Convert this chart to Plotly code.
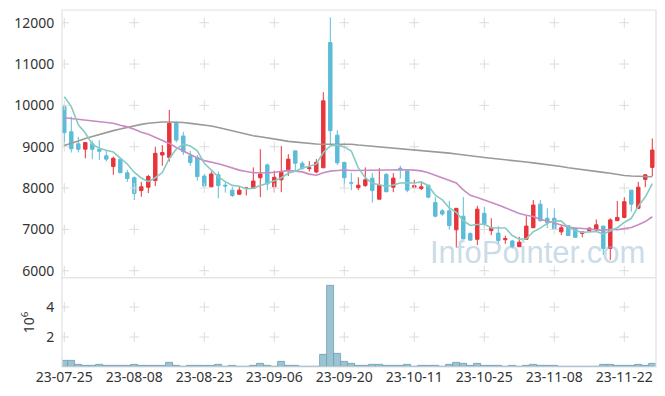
import plotly.graph_objects as go

dates = [
    "23-07-25", "23-07-26", "23-07-27", "23-07-28", "23-07-31",
    "23-08-01", "23-08-02", "23-08-03", "23-08-04", "23-08-07",
    "23-08-08", "23-08-09", "23-08-10", "23-08-11", "23-08-14",
    "23-08-16", "23-08-17", "23-08-18", "23-08-21", "23-08-22",
    "23-08-23", "23-08-24", "23-08-25", "23-08-28", "23-08-29",
    "23-08-30", "23-08-31", "23-09-01", "23-09-04", "23-09-05",
    "23-09-06", "23-09-07", "23-09-08", "23-09-11", "23-09-12",
    "23-09-13", "23-09-14", "23-09-15", "23-09-18", "23-09-19",
    "23-09-20", "23-09-21", "23-09-22", "23-09-25", "23-09-26",
    "23-09-27", "23-10-04", "23-10-05", "23-10-06", "23-10-10",
    "23-10-11", "23-10-12", "23-10-13", "23-10-16", "23-10-17",
    "23-10-18", "23-10-19", "23-10-20", "23-10-23", "23-10-24",
    "23-10-25", "23-10-26", "23-10-27", "23-10-30", "23-10-31",
    "23-11-01", "23-11-02", "23-11-03", "23-11-06", "23-11-07",
    "23-11-08", "23-11-09", "23-11-10", "23-11-13", "23-11-14",
    "23-11-15", "23-11-16", "23-11-17", "23-11-20", "23-11-21",
    "23-11-22", "23-11-23", "23-11-24", "23-11-27", "23-11-28",
]

open_ = [
    9970, 9360, 9070, 8940, 9070, 8940, 8780, 8520, 8700, 8370,
    8250, 7940, 8020, 8180, 8800, 8740, 9590, 9260, 8780, 8740,
    8290, 8030, 8320, 8070, 7950, 7850, 7990, 7990, 8250, 8560,
    8030, 8200, 8440, 8900, 8600, 8470, 8390, 8490, 11520, 9280,
    8620, 8130, 8010, 8060, 8240, 7730, 8330, 8020, 8480, 8410,
    8010, 7990, 8070, 7650, 7450, 7450, 6990, 7320, 6900, 6760,
    7390, 6970, 6910, 6750, 6720, 6580, 6760, 7040, 7610, 7270,
    7270, 6940, 7090, 7030, 6900, 6970, 6990, 7080, 6540, 7210,
    7290, 7950, 7510, 8210, 8500,
]
high = [
    10030, 9730, 9240, 9110, 9150, 9160, 8920, 8760, 8720, 8440,
    8280, 8150, 8320, 9000, 9040, 9890, 9610, 9360, 8900, 8800,
    8340, 8400, 8400, 8150, 8030, 8030, 8010, 8500, 8940, 8600,
    8420, 9020, 8820, 8900, 8650, 8650, 8700, 10320, 12130, 9400,
    8640, 8370, 8260, 8500, 8370, 8480, 8360, 8360, 8540, 8420,
    8200, 8150, 8070, 7790, 7490, 7690, 7510, 7780, 6930, 7570,
    7550, 7270, 7080, 6850, 6740, 6820, 7320, 7710, 7710, 7510,
    7510, 7110, 7090, 7030, 6940, 7050, 7240, 7080, 7270, 7690,
    7780, 7950, 8150, 8340, 9200,
]
low = [
    9000, 8860, 8860, 8720, 8700, 8680, 8640, 8320, 8360, 8150,
    7710, 7790, 7880, 8050, 8540, 8640, 9100, 8800, 8540, 8180,
    8010, 8020, 7750, 7890, 7780, 7830, 7820, 7980, 7780, 7950,
    7900, 7900, 8290, 8400, 8440, 8400, 8360, 8490, 9040, 8560,
    8020, 7950, 7950, 8030, 7650, 7730, 7910, 7900, 8230, 7900,
    7990, 7950, 7750, 7290, 7330, 6990, 6560, 6760, 6730, 6620,
    7040, 6860, 6660, 6650, 6540, 6580, 6760, 7030, 7190, 7030,
    6990, 6860, 6850, 6810, 6810, 6940, 6940, 6380, 6260, 7210,
    7270, 7430, 7490, 8020, 8290,
]
close = [
    9340, 8950, 8940, 9100, 8940, 8890, 8700, 8720, 8370, 8230,
    7870, 8030, 8280, 8840, 8860, 9570, 9160, 8880, 8620, 8280,
    8050, 8340, 8060, 8050, 7820, 7950, 8000, 8170, 8340, 8100,
    8260, 8380, 8700, 8600, 8480, 8490, 8620, 10110, 9390, 8610,
    8250, 8120, 8070, 8200, 7940, 8070, 7910, 8240, 8460, 7950,
    8060, 8030, 7780, 7320, 7370, 7090, 7510, 6770, 6740, 7490,
    7130, 7040, 6730, 6780, 6580, 6690, 7080, 7590, 7210, 7160,
    7000, 7040, 6850, 6810, 6940, 7030, 7110, 6540, 7230, 7290,
    7670, 7610, 8020, 8320, 8920,
]

ma5 = [
    10210, 9970, 9530, 9330, 9054, 8964, 8914, 8870, 8724, 8582,
    8378, 8244, 8156, 8250, 8376, 8716, 8942, 9062, 9018, 8902,
    8598, 8434, 8270, 8156, 8064, 8044, 7976, 7998, 8056, 8112,
    8174, 8250, 8356, 8408, 8484, 8530, 8578, 8860, 9018, 9044,
    8996, 8896, 8488, 8250, 8116, 8080, 8038, 8072, 8124, 8126,
    8124, 8148, 8056, 7828, 7712, 7518, 7414, 7212, 7096, 7120,
    7128, 7034, 7026, 7034, 6852, 6764, 6772, 6944, 7030, 7146,
    7208, 7200, 7052, 6972, 6928, 6934, 6948, 6886, 6970, 7040,
    7168, 7268, 7564, 7782, 8108,
]
ma20 = [
    9700, 9680, 9660, 9645, 9630, 9610, 9590, 9570, 9520, 9480,
    9420, 9350, 9300, 9230, 9160, 9080, 8980, 8890, 8800, 8728,
    8664, 8634, 8590, 8537, 8481, 8434, 8399, 8372, 8370, 8364,
    8383, 8401, 8422, 8410, 8391, 8337, 8310, 8371, 8410, 8426,
    8436, 8425, 8426, 8433, 8439, 8445, 8441, 8444, 8450, 8443,
    8433, 8415, 8369, 8305, 8250, 8180, 8124, 7957, 7825, 7769,
    7713, 7659, 7592, 7521, 7453, 7384, 7342, 7310, 7247, 7208,
    7155, 7105, 7059, 7033, 7012, 7009, 6989, 6977, 7002, 6992,
    7019, 7047, 7112, 7189, 7306,
]
ma60 = [
    9030, 9080, 9140, 9200, 9250, 9300, 9340, 9390, 9430, 9470,
    9500, 9540, 9570, 9590, 9600, 9600, 9595, 9585, 9565, 9545,
    9520, 9500, 9465, 9425, 9380, 9340, 9300, 9265, 9240, 9215,
    9200, 9160, 9130, 9110, 9090, 9070, 9065, 9060, 9060, 9060,
    9060, 9060, 9040, 9025, 9010, 9000, 8990, 8975, 8960, 8950,
    8935, 8920, 8900, 8885, 8865, 8845, 8825, 8800, 8780, 8760,
    8740, 8720, 8705, 8690, 8670, 8645, 8630, 8610, 8590, 8565,
    8545, 8520, 8490, 8465, 8440, 8420, 8400, 8380, 8360, 8330,
    8305, 8290, 8285, 8280, 8275,
]

volume_m = [
    0.42, 0.42, 0.13, 0.07, 0.07, 0.13, 0.07, 0.07, 0.07, 0.07,
    0.13, 0.07, 0.07, 0.07, 0.07, 0.27, 0.07, 0.02, 0.07, 0.07,
    0.07, 0.07, 0.13, 0.02, 0.07, 0.02, 0.02, 0.07, 0.20, 0.07,
    0.02, 0.33, 0.07, 0.07, 0.02, 0.02, 0.02, 0.80, 5.42, 0.87,
    0.33, 0.20, 0.07, 0.07, 0.13, 0.13, 0.07, 0.07, 0.07, 0.13,
    0.02, 0.07, 0.07, 0.07, 0.02, 0.13, 0.27, 0.20, 0.07, 0.20,
    0.07, 0.07, 0.07, 0.02, 0.07, 0.02, 0.07, 0.13, 0.07, 0.07,
    0.07, 0.01, 0.01, 0.01, 0.01, 0.01, 0.01, 0.13, 0.13, 0.07,
    0.07, 0.07, 0.13, 0.07, 0.20,
]

tick_labels = ["23-07-25", "23-08-08", "23-08-23", "23-09-06", "23-09-20",
               "23-10-11", "23-10-25", "23-11-08", "23-11-22"]
price_ticks = [6000, 7000, 8000, 9000, 10000, 11000, 12000]
price_tick_text = ["6000", "7000", "8000", "9000", "10000", "11000", "12000"]
vol_ticks = [2, 4]
vol_tick_text = ["2", "4"]

UP = "#e8343a"
DOWN = "#5dbcd8"
GRID = "#dcdcdc"
FRAME = "#e2e2e2"

fig = go.Figure()

# grid "+" marks at tick intersections
gx = [t for t in tick_labels for _ in price_ticks]
gy = [p for _ in tick_labels for p in price_ticks]
fig.add_trace(go.Scatter(x=gx, y=gy, mode="markers", xaxis="x", yaxis="y",
                         marker=dict(symbol="cross-thin", size=7,
                                     line=dict(color=GRID, width=1)),
                         hoverinfo="skip", showlegend=False))
vx = [t for t in tick_labels for _ in vol_ticks]
vy = [v for _ in tick_labels for v in vol_ticks]
fig.add_trace(go.Scatter(x=vx, y=vy, mode="markers", xaxis="x", yaxis="y2",
                         marker=dict(symbol="cross-thin", size=7,
                                     line=dict(color=GRID, width=1)),
                         hoverinfo="skip", showlegend=False))

fig.add_trace(go.Candlestick(
    x=dates, open=open_, high=high, low=low, close=close,
    xaxis="x", yaxis="y", whiskerwidth=0,
    increasing=dict(line=dict(color=UP, width=1), fillcolor=UP),
    decreasing=dict(line=dict(color=DOWN, width=1), fillcolor=DOWN),
    showlegend=False))

fig.add_trace(go.Scatter(x=dates, y=ma60, mode="lines", xaxis="x", yaxis="y",
                         line=dict(color="#9a9a9a", width=1.6), showlegend=False))
fig.add_trace(go.Scatter(x=dates, y=ma20, mode="lines", xaxis="x", yaxis="y",
                         line=dict(color="#c98bc3", width=1.6), showlegend=False))
fig.add_trace(go.Scatter(x=dates, y=ma5, mode="lines", xaxis="x", yaxis="y",
                         line=dict(color="#86cbc2", width=1.6), showlegend=False))

fig.add_trace(go.Bar(x=dates, y=volume_m, xaxis="x", yaxis="y2",
                     marker=dict(color="#9cc3d1", line=dict(color="#6d9fb4", width=0.8)),
                     showlegend=False))

fig.update_layout(
    width=665, height=396,
    margin=dict(l=62, r=9, t=10, b=29, autoexpand=False),
    paper_bgcolor="white", plot_bgcolor="white",
    font=dict(family="Noto Sans", size=14, color="#333333"),
    bargap=0,
    xaxis=dict(type="category", categoryorder="array", categoryarray=dates,
               range=[-0.33, 84.53], anchor="y2", automargin=False,
               tickmode="array", tickvals=tick_labels, ticktext=tick_labels,
               showgrid=False, zeroline=False, showline=False,
               ticks="", rangeslider=dict(visible=False),
               tickfont=dict(size=14)),
    yaxis=dict(domain=[0.25, 1], range=[5830, 12308], automargin=False,
               tickmode="array", tickvals=price_ticks, ticktext=price_tick_text,
               showgrid=False, zeroline=False, showline=False,
               ticks="outside", ticklen=4, tickcolor="rgba(0,0,0,0)",
               tickfont=dict(size=14)),
    yaxis2=dict(domain=[0, 0.25], range=[0, 5.95], automargin=False,
                tickmode="array", tickvals=vol_ticks, ticktext=vol_tick_text,
                showgrid=False, zeroline=False, showline=False,
                ticks="outside", ticklen=4, tickcolor="rgba(0,0,0,0)",
                tickfont=dict(size=14),
                title=dict(text="10<sup>6</sup>", font=dict(size=14), standoff=8)),
    shapes=[
        dict(type="rect", xref="paper", yref="paper", x0=0, x1=1, y0=0.25, y1=1,
             line=dict(color=FRAME, width=1.2), fillcolor="rgba(0,0,0,0)"),
        dict(type="rect", xref="paper", yref="paper", x0=0, x1=1, y0=0, y1=0.25,
             line=dict(color=FRAME, width=1.2), fillcolor="rgba(0,0,0,0)"),
    ],
    annotations=[
        dict(text="InfoPointer.com", xref="paper", yref="paper",
             x=0.617, y=0.322, xanchor="left", yanchor="middle", showarrow=False,
             font=dict(family="Liberation Sans", size=31,
                       color="rgba(150,185,210,0.5)")),
    ],
)

fig.write_html("out.html",
               config={"displayModeBar": False},
               post_script="document.body.style.margin='0';document.body.style.padding='0';")
